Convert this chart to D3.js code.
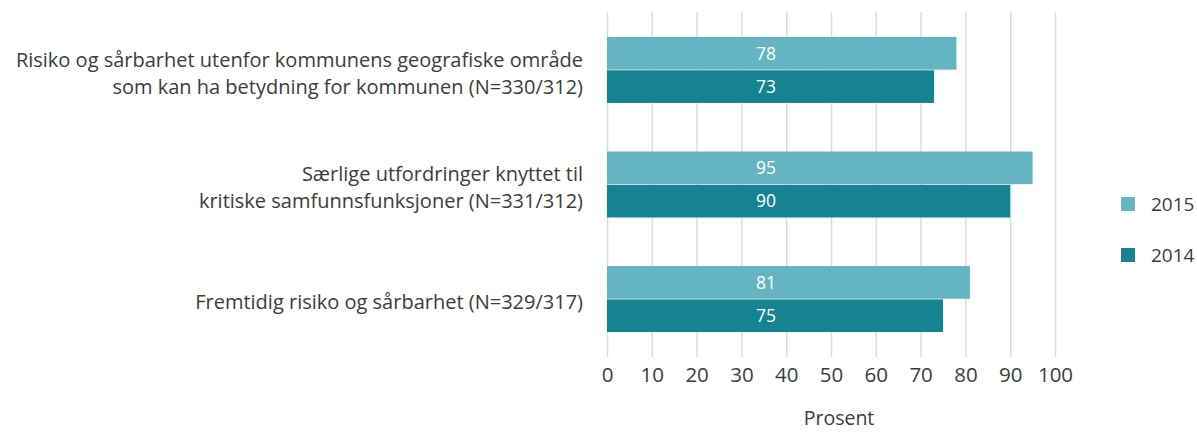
<!DOCTYPE html>
<html>
<head>
<meta charset="utf-8">
<script src="https://cdn.jsdelivr.net/npm/d3@7"></script>
<style>
  body { margin: 0; background: #fff; }
  text { font-family: "Open Sans", "Lato", sans-serif; fill: #3c3c3c; }
</style>
</head>
<body>
<svg width="1197" height="432"></svg>
<script>
const categories = [
  ["Risiko og sårbarhet utenfor kommunens geografiske område", "som kan ha betydning for kommunen (N=330/312)"],
  ["Særlige utfordringer knyttet til", "kritiske samfunnsfunksjoner (N=331/312)"],
  ["Fremtidig risiko og sårbarhet (N=329/317)"]
];
const series = ["2015", "2014"];
const values2015 = [78, 95, 81];
const values2014 = [73, 90, 75];
const xTicks = [0, 10, 20, 30, 40, 50, 60, 70, 80, 90, 100];
const colors = { "2015": "#64b5c1", "2014": "#158391" };

const svg = d3.select("svg");
const catKeys = categories.map((c, i) => i);

const x = d3.scaleLinear().domain([0, 100]).range([607, 1055]);
const y = d3.scaleBand().domain(catKeys).range([12, 357])
            .paddingInner(0.424).paddingOuter(0.218);
const ySub = d3.scaleBand().domain(series).range([0, y.bandwidth()]).paddingInner(0.02);

// gridlines + tick labels
const axis = svg.append("g")
  .attr("transform", "translate(0,357)")
  .call(d3.axisBottom(x).tickValues(xTicks).tickSize(-345).tickPadding(10));
axis.select(".domain").remove();
axis.selectAll(".tick line").attr("stroke", "#dcdcdc").attr("stroke-width", 1.5);
axis.selectAll(".tick text")
    .attr("font-size", 20.5)
    .attr("fill", "#3c3c3c")
    .style("font-family", "'Open Sans', Lato, sans-serif");

const rows = catKeys.map(i => ({ i, vals: [
  { s: "2015", v: values2015[i] },
  { s: "2014", v: values2014[i] }
]}));

const groups = svg.selectAll(".grp")
  .data(rows)
  .enter()
  .append("g")
  .attr("transform", d => `translate(0,${y(d.i)})`);

groups.selectAll("rect")
  .data(d => d.vals)
  .enter()
  .append("rect")
  .attr("x", x(0))
  .attr("y", d => ySub(d.s))
  .attr("width", d => x(d.v) - x(0))
  .attr("height", ySub.bandwidth())
  .attr("fill", d => colors[d.s]);

groups.selectAll(".val")
  .data(d => d.vals)
  .enter()
  .append("text")
  .attr("x", x(35.5))
  .attr("y", d => ySub(d.s) + ySub.bandwidth() / 2)
  .attr("dy", "0.36em")
  .attr("text-anchor", "middle")
  .attr("font-size", 17.5)
  .attr("font-weight", 500)
  .style("fill", "#fff")
  .text(d => d.v);

// category labels
groups.each(function(d) {
  const lines = categories[d.i];
  const t = d3.select(this).append("text")
    .attr("text-anchor", "end")
    .attr("font-size", 20);
  const mid = y.bandwidth() / 2 + 3;
  lines.forEach((ln, k) => {
    t.append("tspan")
      .attr("x", 583)
      .attr("y", mid + (k - (lines.length - 1) / 2) * 27)
      .attr("dy", "0.36em")
      .text(ln);
  });
});

// legend
const legend = svg.append("g");
series.forEach((s, k) => {
  const yy = 204 + k * 51;
  legend.append("rect")
    .attr("x", 1121).attr("y", yy - 7).attr("width", 14).attr("height", 14)
    .attr("fill", colors[s]);
  legend.append("text")
    .attr("x", 1151).attr("y", yy).attr("dy", "0.36em")
    .attr("font-size", 19)
    .text(s);
});

// axis title
svg.append("text")
  .attr("x", 839).attr("y", 418).attr("dy", "0.36em")
  .attr("text-anchor", "middle")
  .attr("font-size", 19.5)
  .text("Prosent");
</script>
</body>
</html>
